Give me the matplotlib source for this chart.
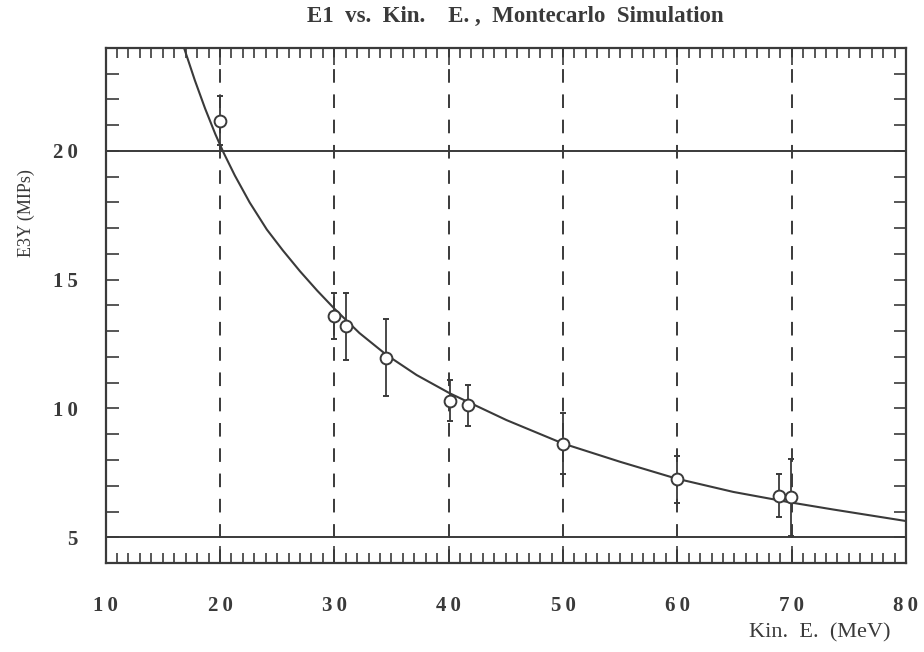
import numpy as np
import matplotlib
matplotlib.use('Agg')
import matplotlib.pyplot as plt
from matplotlib.ticker import MultipleLocator

# Monte Carlo points: kinetic energy (MeV), E3Y (MIPs) and its error
kin_e = [20.0, 30.0, 31.0, 34.5, 40.1, 41.7, 50.0, 60.0, 68.9, 69.9]
e3y = [21.17, 13.6, 13.19, 11.97, 10.3, 10.13, 8.64, 7.25, 6.62, 6.55]
e3y_err = [0.95, 0.9, 1.3, 1.5, 0.8, 0.8, 1.2, 0.92, 0.82, 1.5]

# fitted curve, sampled along its length
fit_x = [16.9, 17.8, 18.7, 19.6, 20.3, 21.3, 22.6, 24.1, 25.5, 27.0,
         28.5, 30.0, 32.2, 34.57, 37.2, 40.1, 45.06, 50.0, 55.0, 59.9,
         64.9, 69.8, 73.6, 80.0]
fit_y = [23.95, 22.75, 21.65, 20.65, 19.95, 19.05, 18.0, 16.95, 16.14, 15.33,
         14.58, 13.88, 12.93, 12.08, 11.3, 10.59, 9.55, 8.64, 7.93, 7.28,
         6.76, 6.36, 6.08, 5.63]

x_ticks = [10, 20, 30, 40, 50, 60, 70, 80]
y_ticks = [5, 10, 15, 20]
grid_x = [20, 30, 40, 50, 60, 70]
limit_y = [5, 20]

ink = '#3a3a3a'
serif = ['Liberation Serif', 'DejaVu Serif']

plt.rcParams['font.family'] = serif
plt.rcParams['axes.edgecolor'] = ink
plt.rcParams['xtick.color'] = ink
plt.rcParams['ytick.color'] = ink


def spaced(v):
    # digits set a little apart, as on the printed axis
    return '\u2009'.join(str(v))


fig = plt.figure(figsize=(9.24, 6.52), dpi=100)
ax = fig.add_axes([0.1143, 0.1365, 0.8662, 0.7899])

for x in grid_x:
    ax.axvline(x, color=ink, lw=1.4, dashes=(7, 6), zorder=1)
for y in limit_y:
    ax.axhline(y, color=ink, lw=1.4, zorder=1)

ax.plot(fit_x, fit_y, '-', color=ink, lw=1.5, zorder=2)

ax.errorbar(kin_e, e3y, yerr=e3y_err, fmt='o', ms=8.5, mfc='white',
            mec=ink, mew=1.4, ecolor=ink, elinewidth=1.3, capsize=2,
            capthick=1.1, zorder=3)

ax.set_xlim(10, 80)
ax.set_ylim(4, 24)
ax.set_xticks(x_ticks)
ax.set_xticklabels([spaced(v) for v in x_ticks])
ax.set_yticks(y_ticks)
ax.set_yticklabels([spaced(v) for v in y_ticks])
ax.xaxis.set_minor_locator(MultipleLocator(1))
ax.yaxis.set_minor_locator(MultipleLocator(1))

ax.tick_params(which='both', direction='in', top=True, right=True, width=1.2)
ax.tick_params(axis='x', which='major', length=12, pad=24, labelsize=15)
ax.tick_params(axis='x', which='minor', length=7)
ax.tick_params(axis='y', which='major', length=9, pad=20, labelsize=15)
ax.tick_params(axis='y', which='minor', length=9)
for lab in ax.get_xticklabels() + ax.get_yticklabels():
    lab.set_fontweight('bold')
    lab.set_color(ink)

for side in ax.spines.values():
    side.set_linewidth(1.6)

fig.text(0.558, 0.974, 'E1  vs.  Kin.    E. ,  Montecarlo  Simulation',
         ha='center', va='center', fontsize=16.5, fontweight='bold', color=ink)
fig.text(0.029, 0.673, 'E3Y (MIPs)', rotation=90, ha='center', va='center',
         fontsize=13, color=ink)
fig.text(0.964, 0.029, 'Kin.  E.  (MeV)', ha='right', va='center',
         fontsize=16, color=ink)

fig.savefig('out.png', dpi=100)
